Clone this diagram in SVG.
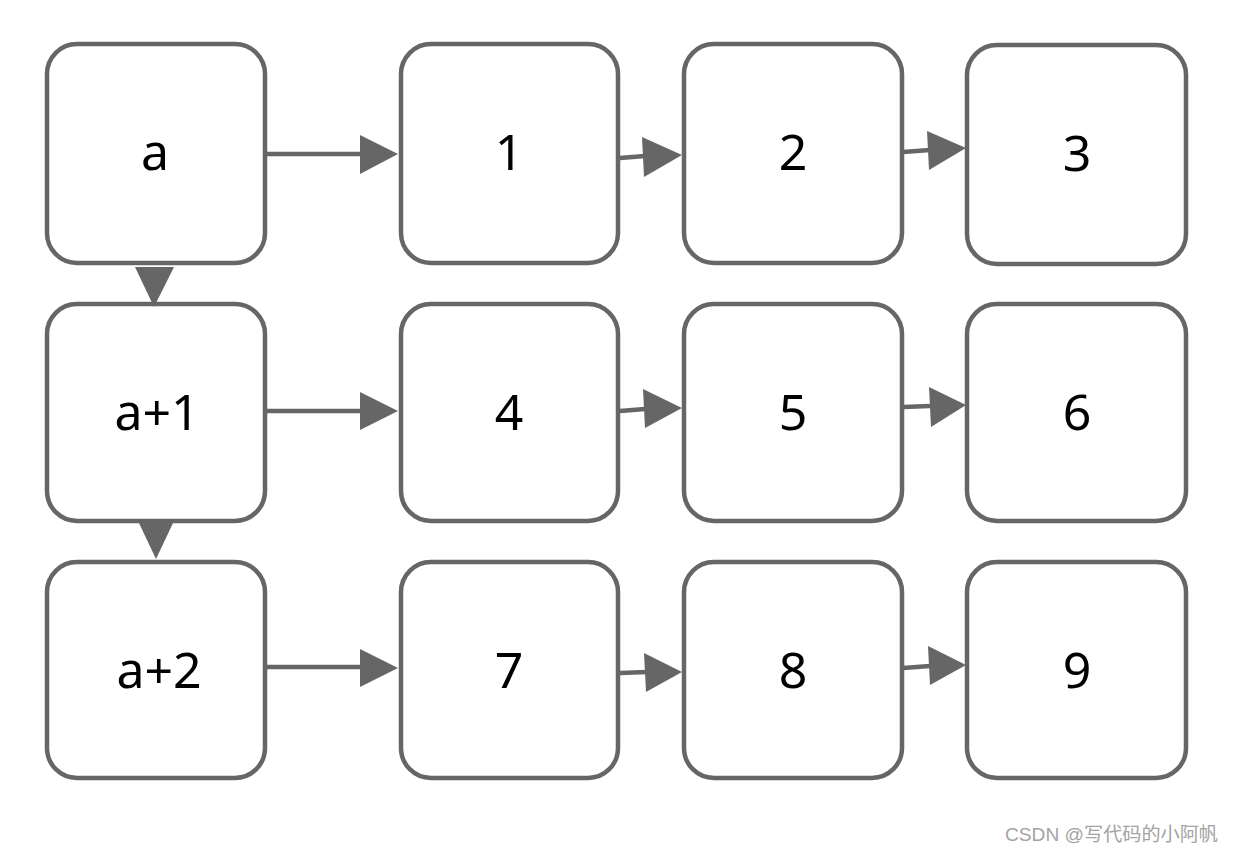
<svg xmlns="http://www.w3.org/2000/svg" width="1233" height="852" viewBox="0 0 1233 852">
<style>
.box{fill:#fff;stroke:#666;stroke-width:4.5}
.lbl{font-family:"Noto Sans","Liberation Sans",sans-serif;font-size:50px;fill:#000;text-anchor:middle}
.ln{stroke:#666;stroke-width:4.5;fill:none}
.hd{fill:#666}
.wm{font-family:"Liberation Sans","Noto Sans CJK SC",sans-serif;font-size:19px;fill:#a3a3a3}
</style>
<rect width="1233" height="852" fill="#fff"/>
<g id="connectors">
<line class="ln" x1="262" y1="154" x2="362" y2="154"/><polygon class="hd" points="360,135 398,154 360,174"/>
<line class="ln" x1="620" y1="158" x2="645" y2="156"/><polygon class="hd" points="642,137 682,155 644,177"/>
<line class="ln" x1="903" y1="152" x2="930" y2="150"/><polygon class="hd" points="927,131 966,148 929,170"/>
<line class="ln" x1="262" y1="411" x2="362" y2="411"/><polygon class="hd" points="360,392 398,411 360,430"/>
<line class="ln" x1="620" y1="411" x2="645" y2="409"/><polygon class="hd" points="643,389 682,408 645,428"/>
<line class="ln" x1="903" y1="407" x2="930" y2="406"/><polygon class="hd" points="929,387 966,405 931,427"/>
<line class="ln" x1="262" y1="667" x2="362" y2="667"/><polygon class="hd" points="360,649 398,668 360,687"/>
<line class="ln" x1="620" y1="673" x2="647" y2="672"/><polygon class="hd" points="644,653 682,672 646,692"/>
<line class="ln" x1="903" y1="668" x2="930" y2="666"/><polygon class="hd" points="928,646 966,665 930,685"/>
</g>
<g id="node-a"><rect class="box" x="47" y="44" width="218" height="219" rx="30"/><text class="lbl" x="155" y="170">a</text></g>
<g id="node-1"><rect class="box" x="401" y="44" width="217" height="219" rx="30"/><text class="lbl" x="509" y="170">1</text></g>
<g id="node-2"><rect class="box" x="684" y="44" width="218" height="219" rx="30"/><text class="lbl" x="793" y="170">2</text></g>
<g id="node-3"><rect class="box" x="967" y="45" width="219" height="219" rx="30"/><text class="lbl" x="1077" y="171">3</text></g>
<g id="node-a1"><rect class="box" x="47" y="304" width="218" height="217" rx="30"/><text class="lbl" x="157" y="430">a+1</text></g>
<g id="node-4"><rect class="box" x="401" y="304" width="217" height="217" rx="30"/><text class="lbl" x="509" y="430">4</text></g>
<g id="node-5"><rect class="box" x="684" y="304" width="218" height="217" rx="30"/><text class="lbl" x="793" y="430">5</text></g>
<g id="node-6"><rect class="box" x="967" y="304" width="219" height="217" rx="30"/><text class="lbl" x="1077" y="430">6</text></g>
<g id="node-a2"><rect class="box" x="47" y="562" width="218" height="216" rx="30"/><text class="lbl" x="159" y="688">a+2</text></g>
<g id="node-7"><rect class="box" x="401" y="562" width="217" height="216" rx="30"/><text class="lbl" x="509" y="688">7</text></g>
<g id="node-8"><rect class="box" x="684" y="562" width="218" height="216" rx="30"/><text class="lbl" x="793" y="688">8</text></g>
<g id="node-9"><rect class="box" x="967" y="562" width="219" height="216" rx="30"/><text class="lbl" x="1077" y="688">9</text></g>
<g id="vertical-heads">
<polygon class="hd" points="135,267 174,267 154,307"/>
<polygon class="hd" points="138,521 174,521 156,559"/>
</g>
<text class="wm" x="1005" y="841" textLength="213" lengthAdjust="spacingAndGlyphs">CSDN @写代码的小阿帆</text>
</svg>
